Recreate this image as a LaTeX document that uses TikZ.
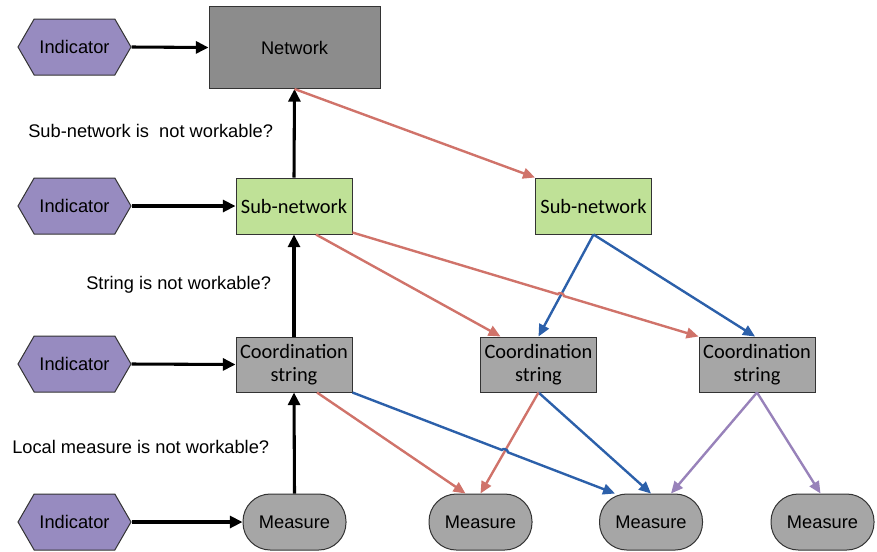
\documentclass[tikz,border=0pt]{standalone}
\usepackage{fontspec}
\setmainfont{Liberation Sans}
\newfontfamily\boxfont{Carlito}
\usetikzlibrary{shapes.symbols,arrows.meta,calc,intersections}
\definecolor{indfill}{HTML}{978BC0}
\definecolor{netfill}{HTML}{8C8C8C}
\definecolor{greyfill}{HTML}{A6A6A6}
\definecolor{subfill}{HTML}{BFE197}
\definecolor{redline}{HTML}{D0736A}
\definecolor{blueline}{HTML}{2C60AA}
\definecolor{purpline}{HTML}{9882BA}
\definecolor{edge}{HTML}{333333}
\tikzset{
  indicator/.style={shape=signal, signal to=east and west, signal pointer angle=120,
    draw=edge, line width=0.75pt, fill=indfill, minimum width=84.75pt, minimum height=42pt,
    inner sep=0pt, font=\fontsize{13.7}{16}\selectfont},
  netbox/.style={draw=edge, line width=0.75pt, fill=netfill, minimum width=128.25pt,
    minimum height=61.5pt, inner sep=0pt, font=\fontsize{13.7}{16}\selectfont},
  subbox/.style={draw=edge, line width=0.75pt, fill=subfill, minimum width=87pt,
    minimum height=42pt, inner sep=0pt, font=\boxfont\fontsize{15.3}{17}\selectfont},
  csbox/.style={draw=edge, line width=0.75pt, fill=greyfill, minimum width=87pt,
    minimum height=41.25pt, inner sep=0pt, align=center,
    font=\boxfont\fontsize{15.3}{17}\selectfont},
  measure/.style={draw=edge, line width=0.75pt, fill=greyfill, minimum width=77.25pt,
    minimum height=42pt, rounded corners=20.5pt, inner sep=0pt,
    font=\fontsize{13.7}{16}\selectfont},
  question/.style={anchor=west, inner sep=0pt, font=\fontsize{13.7}{16}\selectfont},
  blackarrow/.style={line width=2.3pt, -{Triangle[length=9.5pt,width=9pt]}},
  colarrow/.style={line width=1.8pt, -{Triangle[length=9pt,width=8pt]}},
}
\begin{document}
\begin{tikzpicture}[x=0.75pt,y=-0.75pt]
\useasboundingbox (0,0) rectangle (877,551);

% indicators
\node[indicator] (ind1) at (74.5,47) {Indicator};
\node[indicator] (ind2) at (74.5,206) {Indicator};
\node[indicator] (ind3) at (74.5,364) {Indicator};
\node[indicator] (ind4) at (74.5,522) {Indicator};

% hierarchy levels
\node[netbox] (net) at (294.5,47.5) {Network};
\node[subbox] (sub1) at (294,206) {Sub-network};
\node[subbox] (sub2) at (593.5,206) {Sub-network};
\node[csbox] (cs1) at (294,364.5) {Coordination\\string};
\node[csbox] (cs2) at (538.5,364.5) {Coordination\\string};
\node[csbox] (cs3) at (757,364.5) {Coordination\\string};
\node[measure] (m1) at (294.5,522) {Measure};
\node[measure] (m2) at (480.5,522) {Measure};
\node[measure] (m3) at (651,522) {Measure};
\node[measure] (m4) at (822.5,522) {Measure};

% questions
\node[question] (q1) at (28,131) {Sub-network is\ \ not workable?};
\node[question] (q2) at (86,285) {String is not workable?};
\node[question] (q3) at (12,447) {Local measure is not workable?};

% indicator inputs
\draw[blackarrow] (ind1.east) -- (net.west);
\draw[blackarrow] (ind2.east) -- (sub1.west);
\draw[blackarrow] (ind3.east) -- (cs1.west);
\draw[blackarrow] (ind4.east) -- (m1.west);

% escalation upwards
\draw[blackarrow] (m1.north) -- (cs1.south);
\draw[blackarrow] (cs1.north) -- (sub1.south);
\draw[blackarrow] (sub1.north) -- (net.south);

% blue links
\draw[colarrow, blueline, name path=bluecross] (sub2.south) -- (cs2.north);
\draw[colarrow, blueline] (sub2.south) -- ($(cs3.north)+(-2,0)$);
\draw[colarrow, blueline] (cs2.south) -- (m3.north);

% red links
\draw[colarrow, redline] (net.south) -- (sub2.north west);
\draw[colarrow, redline] ($(sub1.south)+(22,0)$) -- ($(cs2.north)+(-38,0)$);
\draw[colarrow, redline] ($(cs1.south)+(23,0)$) -- ($(m2.north)+(-15,0)$);
\draw[colarrow, redline, name path=redcross] (cs2.south) -- (m2.north);

% red link hopping over the blue one
\coordinate (ra) at ($(sub1.south east)+(0,-2)$);
\coordinate (rb) at (cs3.north west);
\path[name path=redlong] (ra) -- (rb);
\path[name intersections={of=redlong and bluecross, by=xr}];
\draw[colarrow, redline] (ra) -- ($(xr)!2.4pt!(ra)$) to[bend left=90] ($(xr)!2.4pt!(rb)$) -- (rb);

% blue link hopping over the red one
\coordinate (ba) at (cs1.south east);
\coordinate (bb) at ($(m3.north)+(-36,0)$);
\path[name path=bluelong] (ba) -- (bb);
\path[name intersections={of=bluelong and redcross, by=xb}];
\draw[colarrow, blueline] (ba) -- ($(xb)!2.4pt!(ba)$) to[bend left=90] ($(xb)!2.4pt!(bb)$) -- (bb);

% purple links
\draw[colarrow, purpline] (cs3.south) -- ($(m3.north)+(20,0)$);
\draw[colarrow, purpline] (cs3.south) -- ($(m4.north)+(-2,0)$);
\end{tikzpicture}
\end{document}
